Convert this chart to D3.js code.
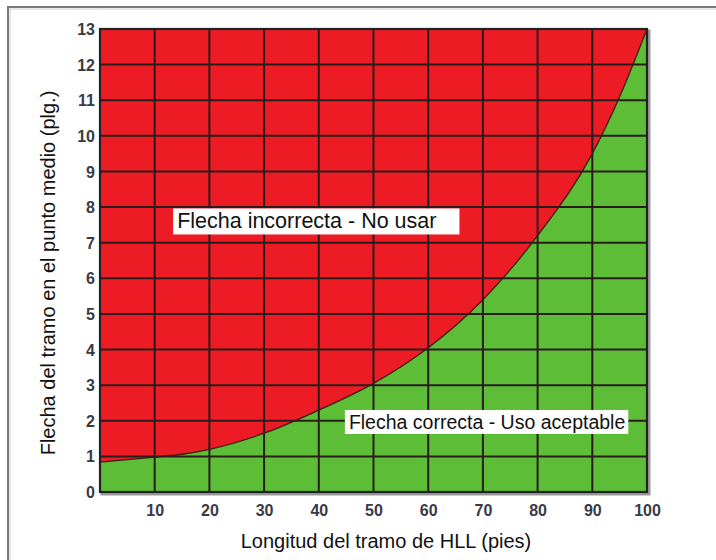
<!DOCTYPE html>
<html><head><meta charset="utf-8">
<script src="https://cdn.jsdelivr.net/npm/d3@7"></script>
<style>body{margin:0;background:#fff;overflow:hidden} svg{display:block}</style>
</head><body><svg id="c" width="716" height="560"></svg>
<script>
// Data
const spanFt = [0, 10, 15, 20, 30, 40, 50, 60, 70, 80, 90, 95, 100];
const sagIn  = [0.84, 0.98, 1.06, 1.2, 1.65, 2.3, 3.05, 4.05, 5.4, 7.2, 9.5, 11.1, 13];
const xTickValues = [10, 20, 30, 40, 50, 60, 70, 80, 90, 100];
const yTickValues = [0, 1, 2, 3, 4, 5, 6, 7, 8, 9, 10, 11, 12, 13];
const xTitle = "Longitud del tramo de HLL (pies)";
const yTitle = "Flecha del tramo en el punto medio (plg.)";
const zoneLabels = ["Flecha incorrecta - No usar", "Flecha correcta - Uso aceptable"];
const zoneLabelX = [14.1, 45.5];
const zoneLabelY = [7.4, 1.77];

const svg = d3.select("#c");
const W = 716, H = 560;
const m = {left: 100, right: 647, top: 29, bottom: 492};
const x = d3.scaleLinear().domain([0, 100]).range([m.left, m.right]);
const y = d3.scaleLinear().domain([0, 13]).range([m.bottom, m.top]);
const FONT = "Arial, 'Liberation Sans', sans-serif";

// outer frame (extends beyond the view on right / bottom)
svg.append("rect").attr("x", 8).attr("y", 7).attr("width", W + 20).attr("height", H + 20)
  .attr("fill", "none").attr("stroke", "#7a7a7a").attr("stroke-width", 2);
svg.append("rect").attr("x", 10).attr("y", 9).attr("width", W + 20).attr("height", H + 20)
  .attr("fill", "none").attr("stroke", "#d0d0d0").attr("stroke-width", 1);

const data = spanFt.map((d, i) => ({x: d, y: sagIn[i]}));

svg.append("clipPath").attr("id", "pc").append("rect")
  .attr("x", m.left).attr("y", m.top).attr("width", m.right - m.left).attr("height", m.bottom - m.top);

// shadow of plot border
svg.append("rect").attr("x", m.left + 2).attr("y", m.top + 2)
  .attr("width", m.right - m.left).attr("height", m.bottom - m.top)
  .attr("fill", "none").attr("stroke", "#9a9a9a").attr("stroke-width", 3);

const g = svg.append("g").attr("clip-path", "url(#pc)");
g.append("rect").attr("x", m.left).attr("y", m.top).attr("width", m.right - m.left).attr("height", m.bottom - m.top)
  .attr("fill", "#5DBD37");
g.append("path").datum(data)
  .attr("d", d3.area().x(d => x(d.x)).y0(y(13)).y1(d => y(d.y)).curve(d3.curveMonotoneX))
  .attr("fill", "#ED1C24");
g.append("path").datum(data)
  .attr("d", d3.line().x(d => x(d.x)).y(d => y(d.y)).curve(d3.curveMonotoneX))
  .attr("fill", "none").attr("stroke", "#3a1c12").attr("stroke-width", 1.3);

// grid
g.selectAll(".vg").data(xTickValues.filter(v => v < 100)).join("line")
  .attr("x1", d => x(d)).attr("x2", d => x(d)).attr("y1", m.top).attr("y2", m.bottom)
  .attr("stroke", "#2a1c1c").attr("stroke-width", 2);
g.selectAll(".hg").data(yTickValues.filter(v => v > 0 && v < 13)).join("line")
  .attr("y1", d => y(d)).attr("y2", d => y(d)).attr("x1", m.left).attr("x2", m.right)
  .attr("stroke", "#2a1c1c").attr("stroke-width", 2);

// plot border
svg.append("rect").attr("x", m.left).attr("y", m.top).attr("width", m.right - m.left).attr("height", m.bottom - m.top)
  .attr("fill", "none").attr("stroke", "#222").attr("stroke-width", 2.2);

// axes (labels only)
const xAxis = d3.axisBottom(x).tickValues(xTickValues).tickSize(0).tickPadding(0);
const ax = svg.append("g").attr("transform", `translate(0,${m.bottom + 13})`).call(xAxis);
ax.select(".domain").remove();
ax.selectAll("text").attr("font-family", FONT).attr("font-size", 16).attr("font-weight", "bold")
  .attr("fill", "#3a3a46").attr("dy", "0.71em");

const yAxis = d3.axisLeft(y).tickValues(yTickValues).tickSize(0).tickPadding(0);
const ay = svg.append("g").attr("transform", `translate(${m.left - 5},0)`).call(yAxis);
ay.select(".domain").remove();
ay.selectAll("text").attr("font-family", FONT).attr("font-size", 16).attr("font-weight", "bold")
  .attr("fill", "#3a3a46").attr("dy", "0.35em");

// titles
svg.append("text").attr("x", 386).attr("y", 548).attr("text-anchor", "middle")
  .attr("font-family", FONT).attr("font-size", 20).attr("fill", "#111").text(xTitle);
svg.append("text").attr("transform", "translate(55,273) rotate(-90)").attr("text-anchor", "middle")
  .attr("font-family", FONT).attr("font-size", 20).attr("fill", "#111").text(yTitle);

// zone labels with white boxes
const sizes = [21.5, 19.5];
zoneLabels.forEach((t, i) => {
  const lg = svg.append("g");
  const tx = lg.append("text").attr("x", x(zoneLabelX[i])).attr("y", y(zoneLabelY[i]))
    .attr("font-family", FONT).attr("font-size", sizes[i]).attr("fill", "#111").text(t);
  const b = tx.node().getBBox();
  lg.insert("rect", "text").attr("x", b.x - 4).attr("y", b.y - 1).attr("width", b.width + 7 + (i === 0 ? 20 : 0))
    .attr("height", b.height + 2).attr("fill", "#fff");
});
</script></body></html>
